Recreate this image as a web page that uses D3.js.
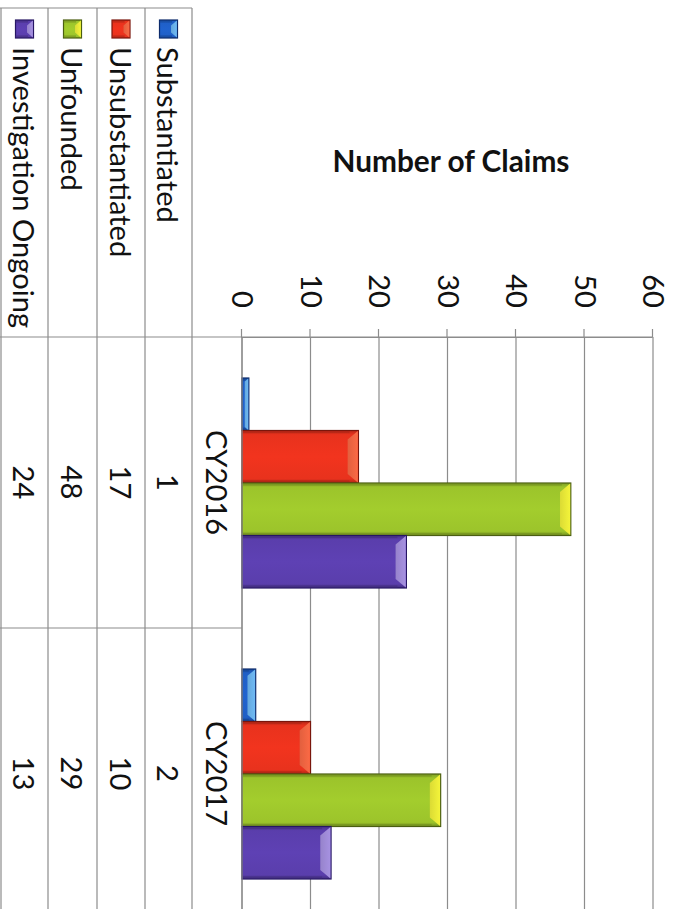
<!DOCTYPE html>
<html><head><meta charset="utf-8">
<script src="https://cdn.jsdelivr.net/npm/d3@7"></script>
<style>html,body{margin:0;padding:0;background:#fff;} svg{display:block;}</style>
</head><body>
<svg id="chart" width="675" height="909"></svg>
<script>
// ---- data ----
const categories = ["CY2016", "CY2017"];
const seriesNames = ["Substantiated", "Unsubstantiated", "Unfounded", "Investigation Ongoing"];
const substantiated = [1, 2];
const unsubstantiated = [17, 10];
const unfounded = [48, 29];
const investigationOngoing = [24, 13];
const valueTicks = [0, 10, 20, 30, 40, 50, 60];
const axisTitle = "Number of Claims";

const seriesValues = [substantiated, unsubstantiated, unfounded, investigationOngoing];
// colours: body, light bevel, dark edge
const seriesColors = [
  {body: "#1f5fc6", light: "#6fbaf5", dark: "#0c2a6a"},
  {body: "#e8321d", light: "#fb6a45", dark: "#7a160c"},
  {body: "#9cc42b", light: "#f4f43a", dark: "#4b5e12"},
  {body: "#5a3eac", light: "#a792e2", dark: "#261663"}
];

const W = 909, H = 675; // un-rotated chart frame
const FONT = "Lato, 'Open Sans', 'Liberation Sans', sans-serif";
const svg = d3.select("#chart");

// calibrate font sizes to Calibri-like widths
function fitSize(txt, weight, base, target) {
  const t = svg.append("text").attr("font-family", FONT).attr("font-weight", weight)
    .attr("font-size", base).text(txt);
  const w = t.node().getComputedTextLength();
  t.remove();
  return base * target / w;
}
const fs = fitSize("Substantiated", "normal", 31, 176);
const fsTitle = fitSize(axisTitle, "bold", 32, 237);

// rotated group: chart drawn in 909x675 frame, turned 90deg clockwise
const g = svg.append("g").attr("transform", `translate(${H},0) rotate(90)`);

const y = d3.scaleLinear().domain([0, 60]).range([433, 22]);
const x0 = d3.scaleBand().domain(categories).range([337, 919]);
const x1 = d3.scaleBand().domain(seriesNames).range([41, 251]);

const gridColor = "#8c8c8c";

// gradients
const defs = svg.append("defs");
seriesColors.forEach((c, i) => {
  const lg = defs.append("linearGradient").attr("id", "bar" + i)
    .attr("x1", 0).attr("y1", 0).attr("x2", 1).attr("y2", 0);
  lg.append("stop").attr("offset", "0%").attr("stop-color", d3.color(c.body).darker(0.6));
  lg.append("stop").attr("offset", "8%").attr("stop-color", c.body);
  lg.append("stop").attr("offset", "50%").attr("stop-color", d3.color(c.body).brighter(0.12));
  lg.append("stop").attr("offset", "92%").attr("stop-color", c.body);
  lg.append("stop").attr("offset", "100%").attr("stop-color", d3.color(c.body).darker(0.8));
  const cg = defs.append("linearGradient").attr("id", "cap" + i)
    .attr("x1", 0).attr("y1", 0).attr("x2", 0).attr("y2", 1);
  cg.append("stop").attr("offset", "0%").attr("stop-color", c.light);
  cg.append("stop").attr("offset", "100%").attr("stop-color", d3.color(c.light).darker(0.3));
});

// gridlines
g.append("g").selectAll("line").data(valueTicks).join("line")
  .attr("x1", 337).attr("x2", 930)
  .attr("y1", d => y(d)).attr("y2", d => y(d))
  .attr("stroke", gridColor).attr("stroke-width", 1.2);

// value axis
const axis = g.append("g").attr("transform", "translate(337,0)")
  .call(d3.axisLeft(y).tickValues(valueTicks).tickSize(8).tickSizeOuter(0).tickPadding(21));
axis.select(".domain").attr("stroke", gridColor).attr("stroke-width", 1.2);
axis.selectAll(".tick line").attr("stroke", gridColor).attr("stroke-width", 1.2);
axis.selectAll(".tick text").attr("font-family", FONT).attr("font-size", fs).attr("fill", "#111");
// extend axis line down through the table
g.append("line").attr("x1", 337).attr("x2", 337).attr("y1", y(60)).attr("y2", H)
  .attr("stroke", gridColor).attr("stroke-width", 1.2);

// bars
function drawBar(parent, bx, by, bw, bh, i, cap) {
  const c = seriesColors[i];
  parent.append("rect").attr("x", bx).attr("y", by).attr("width", bw).attr("height", bh)
    .attr("fill", `url(#bar${i})`).attr("stroke", c.dark).attr("stroke-width", 1.2);
  const b = Math.min(cap, bh * 0.5, bw * 0.3);
  if (b > 0.5) {
    parent.append("polygon")
      .attr("points", [[bx + 0.6, by + 0.6], [bx + bw - 0.6, by + 0.6], [bx + bw - b, by + b * 1.2], [bx + b, by + b * 1.2]].map(p => p.join(",")).join(" "))
      .attr("fill", `url(#cap${i})`);
  }
  // side bevels
  parent.append("rect").attr("x", bx + 0.6).attr("y", by + b).attr("width", 2).attr("height", Math.max(0, bh - b))
    .attr("fill", d3.color(c.body).darker(0.9)).attr("opacity", 0.6);
  parent.append("rect").attr("x", bx + bw - 2.6).attr("y", by + b).attr("width", 2).attr("height", Math.max(0, bh - b))
    .attr("fill", d3.color(c.body).darker(0.9)).attr("opacity", 0.6);
}
const barsG = g.append("g");
seriesNames.forEach((s, i) => {
  categories.forEach((cat, j) => {
    const v = seriesValues[i][j];
    const bx = x0(cat) + x1(s), bw = x1.bandwidth();
    const by = y(v), bh = y(0) - y(v);
    drawBar(barsG, bx, by, bw, bh, i, 9);
  });
});

// ---- data table ----
const rowEdges = [433, 483, 530, 578, 627, 674];
const tbl = g.append("g");
// horizontal (table row) lines
rowEdges.forEach((v, k) => {
  tbl.append("line").attr("x1", k === 0 ? 337 : 8).attr("x2", 930)
    .attr("y1", v).attr("y2", v).attr("stroke", gridColor).attr("stroke-width", 1.2);
});
// left border of legend column
tbl.append("line").attr("x1", 8).attr("x2", 8).attr("y1", 483).attr("y2", H)
  .attr("stroke", gridColor).attr("stroke-width", 1.2);
// category separators
categories.forEach(cat => {
  const e = x0(cat) + x0.bandwidth();
  tbl.append("line").attr("x1", e).attr("x2", e).attr("y1", 433).attr("y2", H)
    .attr("stroke", gridColor).attr("stroke-width", 1.2);
});
// category headers
tbl.selectAll(".cat").data(categories).join("text").attr("class", "cat")
  .attr("x", d => x0(d) + x0.bandwidth() / 2).attr("y", (rowEdges[0] + rowEdges[1]) / 2)
  .attr("text-anchor", "middle").attr("dominant-baseline", "central")
  .attr("font-family", FONT).attr("font-size", fs).attr("fill", "#111").text(d => d);
// series rows
seriesNames.forEach((s, i) => {
  const top = rowEdges[i + 1], bot = rowEdges[i + 2];
  const cy = (top + bot) / 2;
  // legend key (mini bevelled bar)
  drawBar(tbl, 20, cy - 9, 18, 18, i, 6);
  tbl.append("text").attr("x", 47).attr("y", cy).attr("dominant-baseline", "central")
    .attr("font-family", FONT).attr("font-size", fs).attr("fill", "#111").text(s);
  categories.forEach((cat, j) => {
    tbl.append("text").attr("x", x0(cat) + x0.bandwidth() / 2).attr("y", cy)
      .attr("text-anchor", "middle").attr("dominant-baseline", "central")
      .attr("font-family", FONT).attr("font-size", fs).attr("fill", "#111")
      .text(seriesValues[i][j]);
  });
});

// axis title (rotated -90 in chart frame => horizontal on the page)
svg.append("text").attr("x", 451).attr("y", 172).attr("text-anchor", "middle")
  .attr("font-family", FONT).attr("font-weight", "bold").attr("font-size", fsTitle)
  .attr("fill", "#111").text(axisTitle);
</script>
</body></html>
